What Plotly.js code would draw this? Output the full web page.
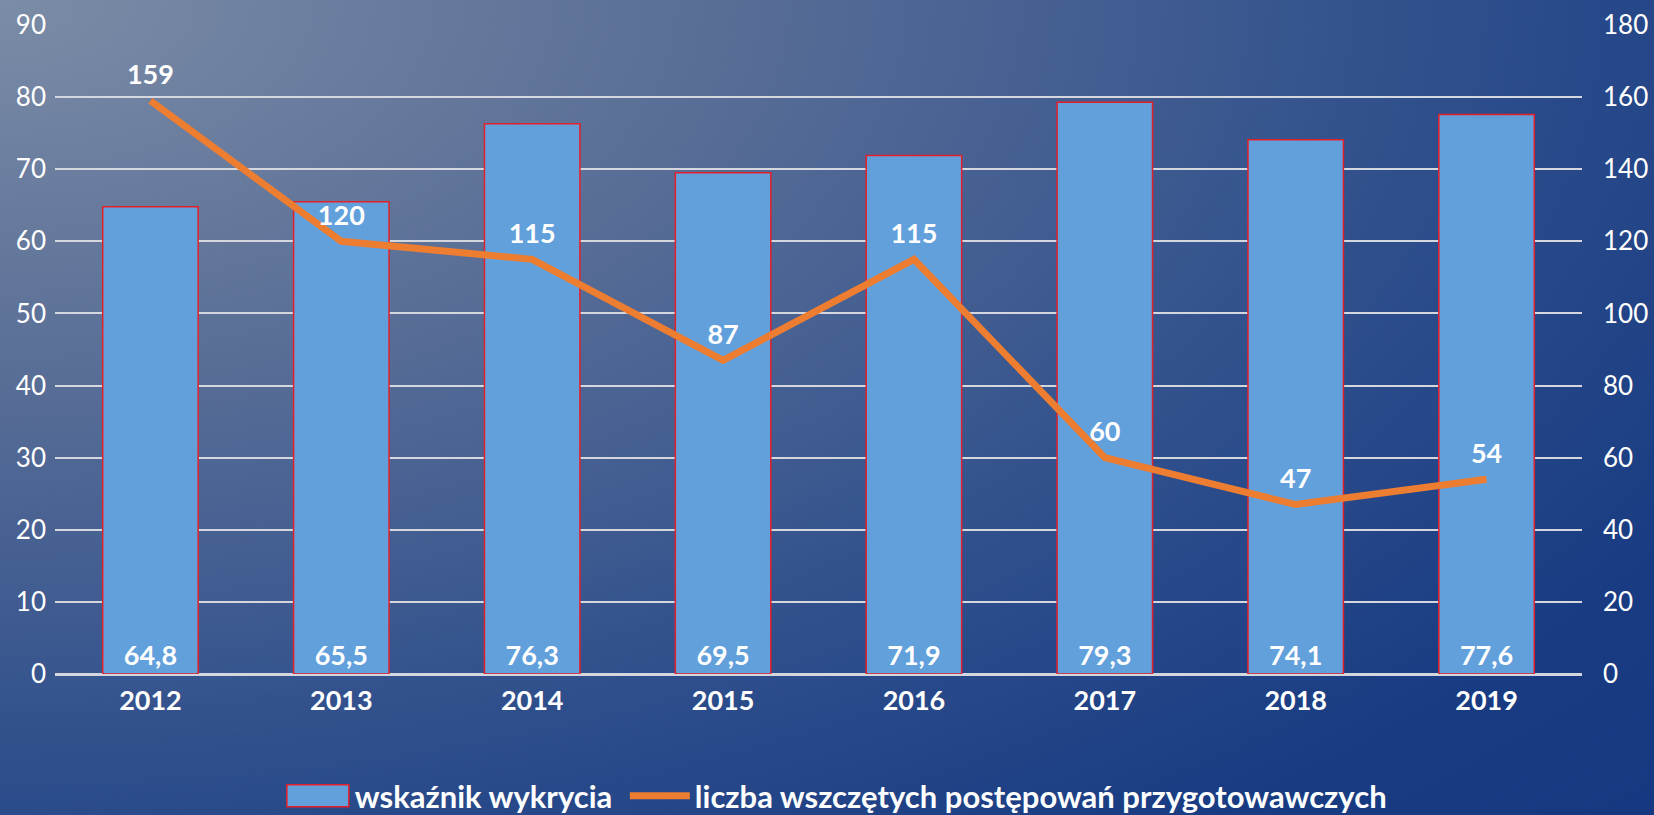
<!DOCTYPE html>
<html>
<head>
<meta charset="utf-8">
<script src="https://cdn.plot.ly/plotly-3.0.1.min.js"></script>
<style>
  html, body { margin: 0; padding: 0; }
  body {
    width: 1654px; height: 815px; overflow: hidden;
    background: radial-gradient(ellipse 140% 150% at 0% 0%, #7b8ca6 0%, #5a6f97 30%, #2f4f8c 62%, #183b82 85%, #153880 100%);
  }
  #chart { width: 1654px; height: 815px; }
</style>
</head>
<body>
<div id="chart"></div>
<script>
// dane z wykresu
const years = ['2012', '2013', '2014', '2015', '2016', '2017', '2018', '2019'];
const wskaznik = [64.8, 65.5, 76.3, 69.5, 71.9, 79.3, 74.1, 77.6];
const liczba = [159, 120, 115, 87, 115, 60, 47, 54];

const fontFam = 'Lato, "Open Sans", sans-serif';

const bars = {
    x: years,
    y: wskaznik,
    type: 'bar',
    name: 'wskaźnik wykrycia\u00a0',
    marker: {color: '#62a0dc', line: {color: '#e3202a', width: 1.5}},
    texttemplate: '%{y:.1f}',
    textposition: 'inside',
    insidetextanchor: 'start',
    constraintext: 'none',
    textangle: 0,
    textfont: {color: '#ffffff', size: 27, family: fontFam, weight: 'bold'},
    hoverinfo: 'skip'
};

const line = {
    x: years,
    y: liczba,
    yaxis: 'y2',
    type: 'scatter',
    mode: 'lines+markers+text',
    name: 'liczba wszczętych postępowań przygotowawczych',
    line: {color: '#ed7d31', width: 7},
    // niewidoczne markery - tylko zeby odsunac etykiety od linii
    marker: {size: 14, opacity: 0, color: '#ed7d31'},
    text: liczba.map(String),
    textposition: 'top center',
    textfont: {color: '#ffffff', size: 27, family: fontFam, weight: 'bold'},
    cliponaxis: false,
    hoverinfo: 'skip'
};

const layout = {
    width: 1654,
    height: 815,
    paper_bgcolor: 'rgba(0,0,0,0)',
    plot_bgcolor: 'rgba(0,0,0,0)',
    margin: {l: 55, r: 72, t: 25, b: 141, autoexpand: false},
    separators: ', ',
    bargap: 0.5,
    font: {family: fontFam, color: '#ffffff', size: 26},
    showlegend: true,
    legend: {
        orientation: 'h', x: 0.513, xanchor: 'center', y: -0.188, yanchor: 'middle',
        font: {size: 31, color: '#ffffff', family: fontFam, weight: 'bold'},
        itemwidth: 60, tracegroupgap: 0
    },
    xaxis: {
        showgrid: false, zeroline: false, showline: false, ticks: '',
        tickfont: {size: 27, color: '#ffffff', family: fontFam, weight: 'bold'},
        ticklabelstandoff: 8
    },
    yaxis: {
        range: [0, 90], dtick: 10, showgrid: true, gridcolor: '#d4d7de', gridwidth: 2,
        zeroline: true, zerolinecolor: '#d4d7de', zerolinewidth: 3,
        showline: false, ticks: '',
        tickfont: {size: 26, color: '#ffffff', family: fontFam},
        ticklabelstandoff: 8
    },
    yaxis2: {
        range: [0, 180], dtick: 20, overlaying: 'y', side: 'right',
        showgrid: false, zeroline: false, showline: false, ticks: '',
        tickfont: {size: 26, color: '#ffffff', family: fontFam},
        ticklabelstandoff: 20
    }
};

Plotly.newPlot('chart', [bars, line], layout, {displayModeBar: false, staticPlot: true}).then(function () {
    // wieksze symbole w legendzie, jak w oryginale
    const pts = document.querySelectorAll('.legendpoints');
    if (pts[0]) {
        pts[0].querySelectorAll('path').forEach(function (p) {
            p.setAttribute('d', 'M-33,-11h62v22h-62z');
        });
    }
    if (pts[1]) {
        pts[1].querySelectorAll('path').forEach(function (p) {
            if (p.classList.contains('js-line')) p.setAttribute('d', 'M-8,0h52');
            else p.style.display = 'none';
        });
    }
});
</script>
</body>
</html>
